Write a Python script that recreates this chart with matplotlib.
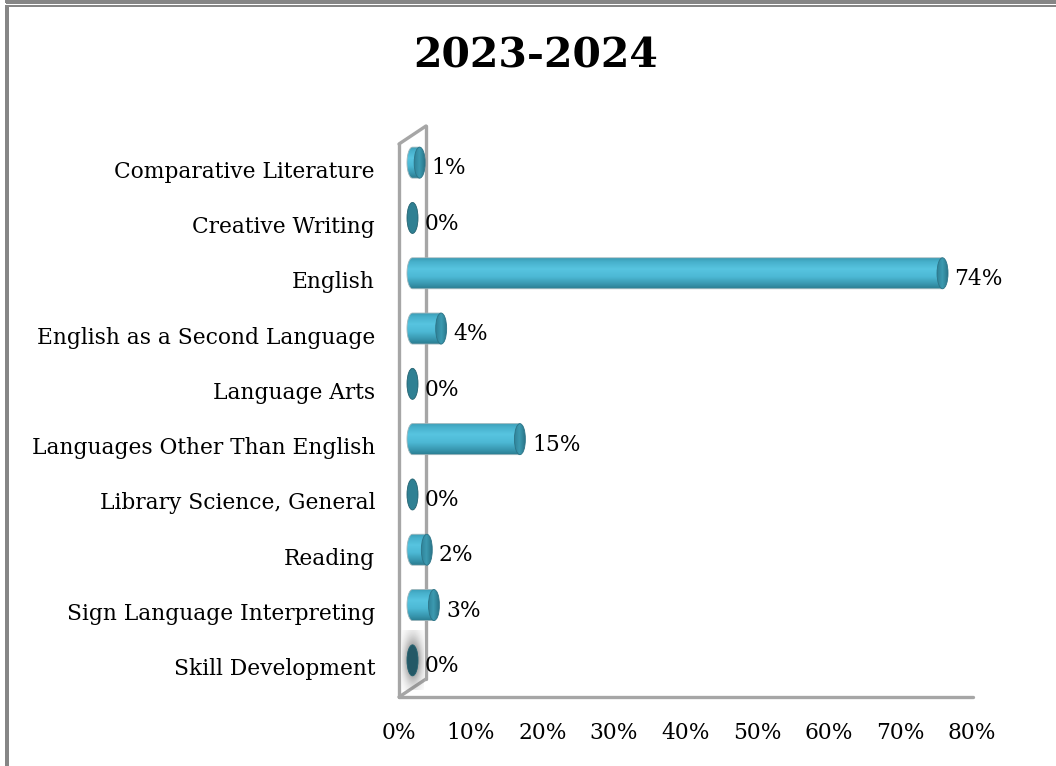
import numpy as np
import matplotlib
matplotlib.use("Agg")
import matplotlib.pyplot as plt
from matplotlib.patches import Ellipse, Polygon
from matplotlib.colors import LinearSegmentedColormap
from matplotlib.lines import Line2D

# ---- data ----
title = "2023-2024"
categories = [
    "Comparative Literature",
    "Creative Writing",
    "English",
    "English as a Second Language",
    "Language Arts",
    "Languages Other Than English",
    "Library Science, General",
    "Reading",
    "Sign Language Interpreting",
    "Skill Development",
]
values = [1, 0, 74, 4, 0, 15, 0, 2, 3, 0]
xticks = [0, 10, 20, 30, 40, 50, 60, 70, 80]

FONT = "DejaVu Serif"
FS = 15.7
W, H, DPI = 1056, 766, 100

fig = plt.figure(figsize=(W / DPI, H / DPI), dpi=DPI)
fig.patch.set_facecolor("white")

# outer border lines of the chart object
border = "#868686"
def fline(xs, ys, lw):
    fig.add_artist(Line2D([x / W for x in xs], [1 - y / H for y in ys],
                          color=border, lw=lw, transform=fig.transFigure,
                          solid_capstyle="butt", antialiased=False))

fline([6, W], [1.5, 1.5], 1.6)
fline([6, W], [5.5, 5.5], 1.4)
fline([7, 7], [4.5, H], 1.6)
fline([7, 7], [0, 2.5], 1.6)

# plot area = front plane of the 3-D box
x0p, x1p, ytop, ybot = 399, 972, 144, 697
ax = fig.add_axes([x0p / W, (H - ybot) / H, (x1p - x0p) / W, (ybot - ytop) / H])
n = len(categories)
ax.axis("off")

# depth of the box in data units
px_x = (x1p - x0p) / 80.0
px_y = (ybot - ytop) / n
DX = 27 / px_x
DY = 18 / px_y

wall = "#a6a6a6"
kw = dict(color=wall, lw=2.4, clip_on=False, solid_capstyle="round", zorder=1)
# front vertical edge, back vertical edge, top and bottom diagonals, floor
ax.plot([0, 0], [-0.5, n - 0.5], **kw)
ax.plot([DX, DX], [-0.5 - DY, n - 0.5 - DY], **kw)
ax.plot([0, DX], [-0.5, -0.5 - DY], **kw)
ax.plot([0, DX], [n - 0.5, n - 0.5 - DY], **kw)
ax.plot([0, 80.2], [n - 0.5, n - 0.5], **kw)

# cylinder geometry
bar_h = 31 / px_y
cap_w = 11 / px_x
xoff = DX / 2
yoff = -DY / 2

body_cmap = LinearSegmentedColormap.from_list(
    "cyl",
    [(0.0, "#3a9cb5"), (0.12, "#47b0cb"), (0.35, "#57c4e0"),
     (0.6, "#4db9d5"), (0.85, "#3795ad"), (1.0, "#2a7b8f")],
)
cap_cmap = LinearSegmentedColormap.from_list(
    "cap", [(0.0, "#2f8197"), (0.5, "#3c9ab1"), (1.0, "#2b778b")]
)
grad = np.linspace(0, 1, 256).reshape(-1, 1)
hgrad = np.linspace(0, 1, 64).reshape(1, -1)

for i, (cat, v) in enumerate(zip(categories, values)):
    yc = i + yoff
    xs = xoff
    xe = xoff + v
    if v > 0:
        # body: rectangle with a rounded left end
        t = np.linspace(np.pi / 2, 3 * np.pi / 2, 40)
        lx = xs + cap_w / 2 * np.cos(t)
        ly = yc - bar_h / 2 * np.sin(t)
        verts = np.vstack([[[xe, yc - bar_h / 2]], np.column_stack([lx, ly]),
                           [[xe, yc + bar_h / 2]]])
        body = Polygon(verts, closed=True, facecolor="none", edgecolor="#9db5bb",
                       lw=0.6, zorder=3)
        ax.add_patch(body)
        im = ax.imshow(grad, cmap=body_cmap, aspect="auto",
                       extent=[xs - cap_w / 2, xe, yc + bar_h / 2, yc - bar_h / 2],
                       zorder=2.5, interpolation="bilinear")
        im.set_clip_path(body)
        # right end cap
        cap = Ellipse((xe, yc), cap_w, bar_h, facecolor="none", edgecolor="#2c7487",
                      lw=0.6, zorder=4)
        ax.add_patch(cap)
        imc = ax.imshow(hgrad, cmap=cap_cmap, aspect="auto",
                        extent=[xe - cap_w / 2, xe + cap_w / 2, yc + bar_h / 2, yc - bar_h / 2],
                        zorder=3.5, interpolation="bilinear")
        imc.set_clip_path(cap)
    else:
        if i == n - 1:
            # soft grey glow around the last marker
            gx = np.linspace(-1, 1, 60)
            gy = np.linspace(-1, 1, 120)
            GX, GY = np.meshgrid(gx, gy)
            alpha = np.exp(-(GX ** 2) * 1.6 - (GY ** 2) * 1.8) * 0.85
            rgba = np.zeros((120, 60, 4))
            rgba[..., :3] = 0.38
            rgba[..., 3] = alpha
            ax.imshow(rgba, aspect="auto", interpolation="bilinear",
                      extent=[xs - 11 / px_x, xs + 11 / px_x,
                              yc + 30 / px_y, yc - 30 / px_y],
                      zorder=1.5)
            face = "#245866"
        else:
            face = "#2f8093"
        ax.add_patch(Ellipse((xs, yc), cap_w, bar_h, facecolor=face,
                             edgecolor="#23616f", lw=0.6, zorder=4))

    # value label
    ax.text(xe + cap_w / 2 + 0.9, i - 0.06, f"{v}%", ha="left", va="center",
            fontsize=FS, family=FONT, color="black", zorder=5)
    # category label
    ax.text(-24 / px_x, i, cat, ha="right", va="center",
            fontsize=FS, family=FONT, color="black", clip_on=False)

# x tick labels
for t in xticks:
    ax.text(t, n - 0.5 + 36 / px_y, f"{t}%", ha="center", va="center",
            fontsize=FS, family=FONT, color="black", clip_on=False)

ax.set_xlim(0, 80)
ax.set_ylim(n - 0.5, -0.5)

fig.text(536 / W, 1 - 56 / H, title, ha="center", va="center",
         fontsize=29.5, fontweight="bold", family=FONT, color="black")

fig.savefig("out.png", dpi=DPI, facecolor="white")
